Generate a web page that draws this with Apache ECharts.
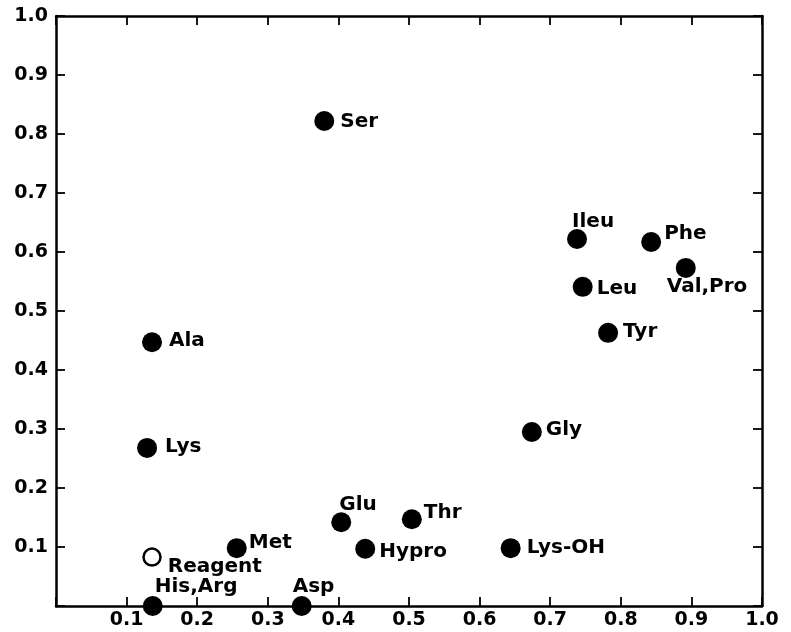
<!DOCTYPE html>
<html>
<head>
<meta charset="utf-8">
<script src="https://cdn.jsdelivr.net/npm/echarts@6/dist/echarts.min.js"></script>
<style>html,body{margin:0;padding:0;background:#fff;}#c{width:791px;height:632px;}</style>
</head>
<body>
<div id="c"></div>
<script>
// Data
const names = ['Ser','Ileu','Phe','Val,Pro','Leu','Tyr','Ala','Lys','Gly','Glu','Thr','Hypro','Lys-OH','Met','Reagent','His,Arg','Asp'];
const xValues = [0.380,0.738,0.843,0.892,0.746,0.782,0.136,0.129,0.674,0.404,0.504,0.438,0.644,0.256,0.136,0.137,0.348];
const yValues = [0.822,0.622,0.617,0.573,0.541,0.463,0.447,0.268,0.295,0.142,0.147,0.097,0.098,0.098,0.083,0.000,0.000];
const openMarkers = ['Reagent'];
const tickLabels = ['0.1','0.2','0.3','0.4','0.5','0.6','0.7','0.8','0.9','1.0'];

// Label placement (style only)
const labelOffsets = {
  'Ser':[6,1],'Ileu':[-15,-17],'Phe':[3,-8],'Val,Pro':[-29,19],'Leu':[4,2],'Tyr':[5,-1],
  'Ala':[7,-1],'Lys':[8,-1],'Gly':[4,-2],'Glu':[-12,-17],'Thr':[2,-6],'Hypro':[4,3],
  'Lys-OH':[6,0],'Met':[2,-5],'Reagent':[6,10],'His,Arg':[-8,-19],'Asp':[-19,-19]
};

const FONT = 'DejaVu Sans';
const fmt = v => { const s = v.toFixed(1); return tickLabels.includes(s) ? s : ''; };

const data = names.map((n, i) => {
  const open = openMarkers.includes(n);
  return {
    name: n,
    value: [xValues[i], yValues[i]],
    symbolSize: open ? 17 : 20,
    itemStyle: open ? {color:'#fff', borderColor:'#000', borderWidth:2.5, opacity:1} : {color:'#000', opacity:1},
    label: {
      show: true, formatter: n, position: 'right', distance: 0,
      offset: labelOffsets[n] || [4,0],
      color:'#000', opacity:1, fontFamily: FONT, fontWeight:'bold', fontSize:20
    }
  };
});

const axisCommon = {
  type:'value', min:0, max:1, interval:0.1,
  splitLine:{show:false},
  axisLine:{show:true, onZero:false, lineStyle:{color:'#000', width:2.5}},
  axisTick:{show:true, inside:true, length:9, lineStyle:{color:'#000', width:1.8}}
};

const chart = echarts.init(document.getElementById('c'));
chart.setOption({
  animation:false,
  backgroundColor:'#fff',
  grid:{left:56, right:29, top:16, bottom:26, containLabel:false},
  xAxis:[
    Object.assign({}, axisCommon, {position:'bottom',
      axisLabel:{formatter:fmt, color:'#000', fontFamily:FONT, fontWeight:'bold', fontSize:19, margin:5}}),
    Object.assign({}, axisCommon, {position:'top', axisLabel:{show:false}})
  ],
  yAxis:[
    Object.assign({}, axisCommon, {position:'left',
      axisLabel:{formatter:fmt, color:'#000', fontFamily:FONT, fontWeight:'bold', fontSize:19, margin:8}}),
    Object.assign({}, axisCommon, {position:'right', axisLabel:{show:false}})
  ],
  series:[{
    type:'scatter', xAxisIndex:0, yAxisIndex:0,
    symbol:'circle', data:data, clip:false,
    itemStyle:{opacity:1},
    emphasis:{disabled:true}
  }]
});
</script>
</body>
</html>
